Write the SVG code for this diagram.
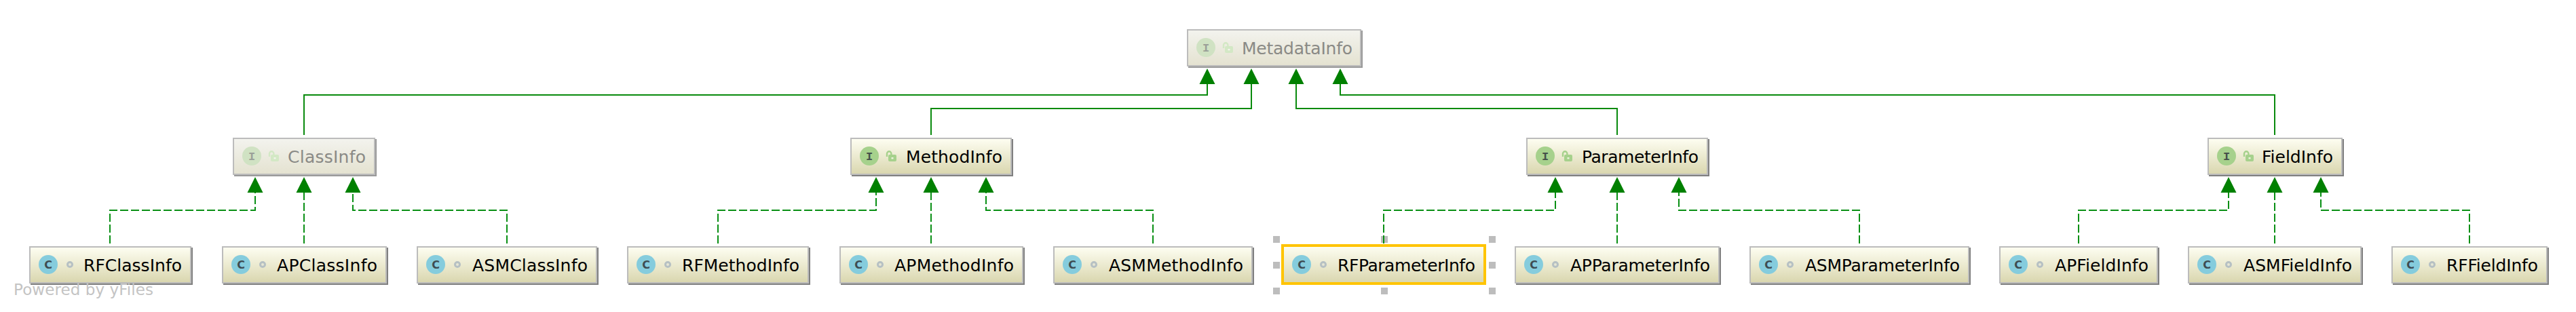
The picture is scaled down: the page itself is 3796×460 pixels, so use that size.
<svg xmlns="http://www.w3.org/2000/svg" width="3796" height="460" viewBox="0 0 3796 460">
<style>
.sh{fill:#808080}
.sh.f{fill:#999}
.box{fill:url(#gn);stroke:#bcbcbc;stroke-width:2}
.box.f{fill:url(#gf)}
.sel{fill:url(#gn);stroke:#ffc400;stroke-width:4}
.lbl{font-family:"DejaVu Sans",sans-serif;font-size:25px;fill:#000}
.lbl.f{fill:#8a8a86}
.c{fill:#85ccdd}
.ci{font-family:"DejaVu Sans",sans-serif;font-weight:bold;font-size:16px;fill:#3e4c52;text-anchor:middle}
.dot{fill:#e6e6d4;stroke:#b6c0c3;stroke-width:3}
.i{fill:#a6d18c}
.i.f{fill:#d0e2c3}
.ii{font-family:"Liberation Mono",monospace;font-weight:bold;font-size:17px;fill:#45504a;text-anchor:middle}
.ii.f{fill:#9a9f98}
.lk{fill:none;stroke:#a6d18c;stroke-width:2.4}
.lb{fill:#a6d18c}
.lk.f{stroke:#d3e8c5}
.lb.f{fill:#d3e8c5}
.h{fill:#bdbdbd}
.s{fill:none;stroke:#088a0c;stroke-width:2;marker-end:url(#tri)}
.d{fill:none;stroke:#088f14;stroke-width:2;stroke-dasharray:12 4;marker-end:url(#tri)}
.wm{font-family:"DejaVu Sans",sans-serif;font-size:23px;fill:#c4c4c4}
</style>
<defs>
<linearGradient id="gn" x1="0" y1="0" x2="0" y2="1"><stop offset="0" stop-color="#fefef2"/><stop offset="1" stop-color="#d9d6ae"/></linearGradient>
<linearGradient id="gf" x1="0" y1="0" x2="0" y2="1"><stop offset="0" stop-color="#f3f3ee"/><stop offset="1" stop-color="#e4e2d0"/></linearGradient>
<marker id="tri" markerUnits="userSpaceOnUse" markerWidth="23" markerHeight="24" refX="0" refY="12" orient="auto"><path d="M0,0.5 L23,12 L0,23.5 z" fill="#008000"/></marker>
<g id="cico"><circle class="c" cx="28" cy="27" r="14"/><circle class="dot" cx="60" cy="27" r="3.5"/></g>
<g id="lock"><path class="lk" d="M54 28 V23.5 a3.2 3.2 0 0 1 6.4 0 V27"/><rect class="lb" x="56" y="25" width="12" height="10" rx="2"/><rect x="60.5" y="29" width="3" height="2.4" fill="#eef3dc"/></g>
<g id="lockf"><path class="lk f" d="M54 28 V23.5 a3.2 3.2 0 0 1 6.4 0 V27"/><rect class="lb f" x="56" y="25" width="12" height="10" rx="2"/><rect x="60.5" y="29" width="3" height="2.4" fill="#f3f3ec"/></g>
</defs>
<rect width="3796" height="460" fill="#fff"/>
<g id="selection-handles">
<rect class="h" x="1876" y="348" width="10" height="10"/><rect class="h" x="2035" y="348" width="10" height="10"/><rect class="h" x="2194" y="348" width="10" height="10"/>
<rect class="h" x="1876" y="386" width="10" height="10"/><rect class="h" x="2194" y="386" width="10" height="10"/>
<rect class="h" x="1876" y="424" width="10" height="10"/><rect class="h" x="2035" y="424" width="10" height="10"/><rect class="h" x="2194" y="424" width="10" height="10"/>
</g>
<g id="connectors">
<path class="s" d="M448 199V140H1779V124"/>
<path class="s" d="M1372 199V160H1844V124"/>
<path class="s" d="M2383 199V160H1910V124"/>
<path class="s" d="M3352 199V140H1975V124"/>
<path class="d" d="M162 359V310H376V284"/>
<path class="d" d="M448 359V284"/>
<path class="d" d="M747 359V310H520V284"/>
<path class="d" d="M1058 359V310H1291V284"/>
<path class="d" d="M1372 359V284"/>
<path class="d" d="M1699 359V310H1453V284"/>
<path class="d" d="M2039 359V310H2292V284"/>
<path class="d" d="M2383 359V284"/>
<path class="d" d="M2740 359V310H2474V284"/>
<path class="d" d="M3063 359V310H3284V284"/>
<path class="d" d="M3352 359V284"/>
<path class="d" d="M3639 359V310H3420V284"/>
</g>
<g id="MetadataInfo" transform="translate(1749,43)"><rect class="sh f" x="2" y="2" width="257" height="55"/><rect class="box f" x="1" y="1" width="255" height="53"/><circle class="i f" cx="28" cy="27" r="14"/><text class="ii f" x="28" y="33">I</text><use href="#lockf"/><text class="lbl f" x="81" y="37" textLength="163">MetadataInfo</text></g>
<g id="ClassInfo" transform="translate(343,203)"><rect class="sh f" x="2" y="2" width="210" height="55"/><rect class="box f" x="1" y="1" width="208" height="53"/><circle class="i f" cx="28" cy="27" r="14"/><text class="ii f" x="28" y="33">I</text><use href="#lockf"/><text class="lbl f" x="81" y="37" textLength="115">ClassInfo</text></g>
<g id="MethodInfo" transform="translate(1253,203)"><rect class="sh" x="2" y="2" width="238" height="55"/><rect class="box" x="1" y="1" width="236" height="53"/><circle class="i" cx="28" cy="27" r="14"/><text class="ii" x="28" y="33">I</text><use href="#lock"/><text class="lbl" x="82" y="37" textLength="142">MethodInfo</text></g>
<g id="ParameterInfo" transform="translate(2249,203)"><rect class="sh" x="2" y="2" width="268" height="55"/><rect class="box" x="1" y="1" width="266" height="53"/><circle class="i" cx="28" cy="27" r="14"/><text class="ii" x="28" y="33">I</text><use href="#lock"/><text class="lbl" x="82" y="37" textLength="172">ParameterInfo</text></g>
<g id="FieldInfo" transform="translate(3253,203)"><rect class="sh" x="2" y="2" width="199" height="55"/><rect class="box" x="1" y="1" width="197" height="53"/><circle class="i" cx="28" cy="27" r="14"/><text class="ii" x="28" y="33">I</text><use href="#lock"/><text class="lbl" x="80" y="37" textLength="105">FieldInfo</text></g>
<g id="RFClassInfo" transform="translate(43,363)"><rect class="sh" x="2" y="2" width="239" height="55"/><rect class="box" x="1" y="1" width="237" height="53"/><use href="#cico"/><text class="ci" x="28" y="33">C</text><text class="lbl" x="80" y="37" textLength="145">RFClassInfo</text></g>
<g id="APClassInfo" transform="translate(327,363)"><rect class="sh" x="2" y="2" width="243" height="55"/><rect class="box" x="1" y="1" width="241" height="53"/><use href="#cico"/><text class="ci" x="28" y="33">C</text><text class="lbl" x="81" y="37" textLength="148">APClassInfo</text></g>
<g id="ASMClassInfo" transform="translate(614,363)"><rect class="sh" x="2" y="2" width="266" height="55"/><rect class="box" x="1" y="1" width="264" height="53"/><use href="#cico"/><text class="ci" x="28" y="33">C</text><text class="lbl" x="82" y="37" textLength="170">ASMClassInfo</text></g>
<g id="RFMethodInfo" transform="translate(924,363)"><rect class="sh" x="2" y="2" width="268" height="55"/><rect class="box" x="1" y="1" width="266" height="53"/><use href="#cico"/><text class="ci" x="28" y="33">C</text><text class="lbl" x="81" y="37" textLength="173">RFMethodInfo</text></g>
<g id="APMethodInfo" transform="translate(1237,363)"><rect class="sh" x="2" y="2" width="271" height="55"/><rect class="box" x="1" y="1" width="269" height="53"/><use href="#cico"/><text class="ci" x="28" y="33">C</text><text class="lbl" x="81" y="37" textLength="176">APMethodInfo</text></g>
<g id="ASMMethodInfo" transform="translate(1552,363)"><rect class="sh" x="2" y="2" width="294" height="55"/><rect class="box" x="1" y="1" width="292" height="53"/><use href="#cico"/><text class="ci" x="28" y="33">C</text><text class="lbl" x="82" y="37" textLength="198">ASMMethodInfo</text></g>
<g id="RFParameterInfo" transform="translate(1890,363)"><rect class="sel" x="0" y="-1" width="298" height="56"/><use href="#cico"/><text class="ci" x="28" y="33">C</text><text class="lbl" x="81" y="37" textLength="203">RFParameterInfo</text></g>
<g id="APParameterInfo" transform="translate(2232,363)"><rect class="sh" x="2" y="2" width="302" height="55"/><rect class="box" x="1" y="1" width="300" height="53"/><use href="#cico"/><text class="ci" x="28" y="33">C</text><text class="lbl" x="82" y="37" textLength="206">APParameterInfo</text></g>
<g id="ASMParameterInfo" transform="translate(2578,363)"><rect class="sh" x="2" y="2" width="324" height="55"/><rect class="box" x="1" y="1" width="322" height="53"/><use href="#cico"/><text class="ci" x="28" y="33">C</text><text class="lbl" x="82" y="37" textLength="228">ASMParameterInfo</text></g>
<g id="APFieldInfo" transform="translate(2946,363)"><rect class="sh" x="2" y="2" width="234" height="55"/><rect class="box" x="1" y="1" width="232" height="53"/><use href="#cico"/><text class="ci" x="28" y="33">C</text><text class="lbl" x="82" y="37" textLength="138">APFieldInfo</text></g>
<g id="ASMFieldInfo" transform="translate(3224,363)"><rect class="sh" x="2" y="2" width="256" height="55"/><rect class="box" x="1" y="1" width="254" height="53"/><use href="#cico"/><text class="ci" x="28" y="33">C</text><text class="lbl" x="82" y="37" textLength="160">ASMFieldInfo</text></g>
<g id="RFFieldInfo" transform="translate(3524,363)"><rect class="sh" x="2" y="2" width="230" height="55"/><rect class="box" x="1" y="1" width="228" height="53"/><use href="#cico"/><text class="ci" x="28" y="33">C</text><text class="lbl" x="81" y="37" textLength="135">RFFieldInfo</text></g>
<text class="wm" x="20" y="435" textLength="206">Powered by yFiles</text>
</svg>
